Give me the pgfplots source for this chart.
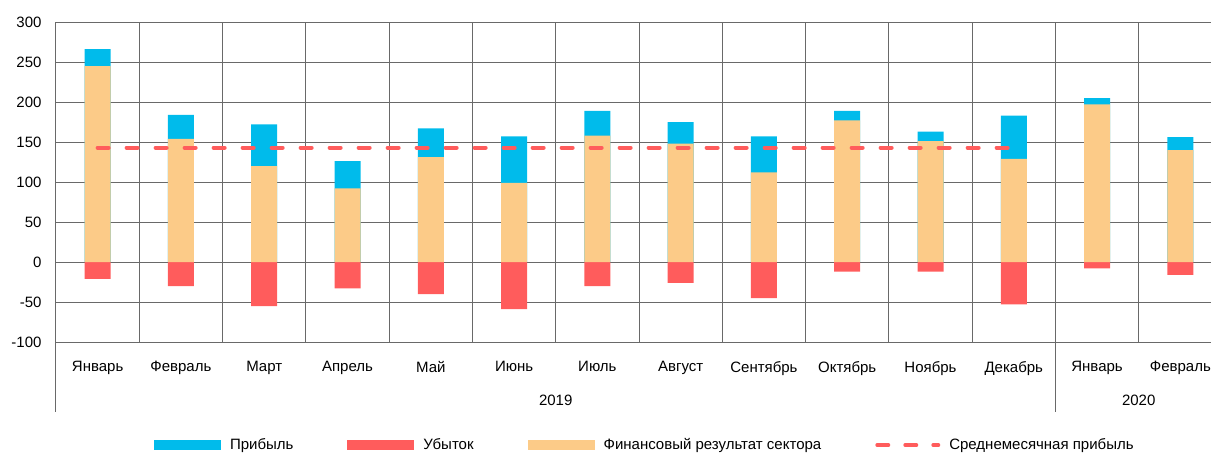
\documentclass[border=0pt]{standalone}
\usepackage{fontspec}
\setmainfont{Liberation Sans}
\usepackage{pgfplots}
\pgfplotsset{compat=1.18}
\definecolor{cblue}{RGB}{0,187,235}
\definecolor{cred}{RGB}{255,92,92}
\definecolor{corange}{RGB}{252,203,136}
\definecolor{cgrid}{RGB}{105,105,105}
\pgfplotstableread{
x profit result loss
0 266 245 -21
1 184 154 -30
2 172 120 -55
3 126 92 -33
4 167 131 -40
5 157 99 -59
6 189 158 -30
7 175 148 -26
8 157 112 -45
9 189 177 -12
10 163 151 -12
11 183 129 -53
12 205 197 -8
13 156 140 -16
}\datatable
\begin{document}
\begin{tikzpicture}[font=\fontsize{15}{18}\selectfont]
\begin{axis}[
 scale only axis, width=1166pt, height=320pt,
 xmin=-0.5, xmax=13.5, ymin=-100, ymax=300,
 ytick={-100,-50,...,300},
 xtick={0,...,13},
 xticklabels={Январь,Февраль,Март,Апрель,Май,Июнь,Июль,Август,Сентябрь,Октябрь,Ноябрь,Декабрь,Январь,Февраль},
 minor xtick={-0.5,0.5,...,13.5},
 xminorgrids=true, ymajorgrids=true, xmajorgrids=false,
 grid style={cgrid, line width=1pt},
 minor grid style={cgrid, line width=1pt},
 axis line style={cgrid, line width=1pt},
 major tick length=0pt, minor tick length=0pt,
 tick style={draw=none},
 /pgf/number format/assume math mode=true,
 yticklabel style={xshift=-11pt},
 xticklabel style={yshift=-16pt},
 clip=false,
 legend columns=4,
 legend style={at={(rel axis cs:0.505,-0.322)}, anchor=center, draw=none, fill=none,
   /tikz/every odd column/.append style={column sep=7pt},
   /tikz/every even column/.append style={column sep=52pt}},
]
\addplot[ybar, bar width=26pt, bar shift=0pt, fill=cblue, draw=none,
  legend image code/.code={\fill[cblue] (0pt,-5pt) rectangle (67pt,5pt);}]
  table[x=x, y=profit] {\datatable};
\addlegendentry{Прибыль}
\addplot[ybar, bar width=26pt, bar shift=0pt, fill=cred, draw=none,
  legend image code/.code={\fill[cred] (0pt,-5pt) rectangle (67pt,5pt);}]
  table[x=x, y=loss] {\datatable};
\addlegendentry{Убыток}
\addplot[ybar, bar width=26pt, bar shift=0pt, fill=corange, draw=none,
  legend image code/.code={\fill[corange] (0pt,-5pt) rectangle (67pt,5pt);}]
  table[x=x, y=result] {\datatable};
\addlegendentry{Финансовый результат сектора}
\addplot[cred, line width=4pt, dash pattern=on 11pt off 18pt, line cap=round,
  legend image code/.code={\draw[cred, line width=4pt, dash pattern=on 11pt off 17pt, line cap=round] (2pt,0pt) -- (63pt,0pt);}]
  coordinates {(0,143) (11,143)};
\addlegendentry{Среднемесячная прибыль}
\coordinate (O) at (axis cs:-0.5,-100);
\draw[cgrid, line width=1pt] (axis cs:-0.5,-100) -- (axis cs:13.5,-100);
\draw[cgrid, line width=1pt] (axis cs:-0.5,-100) -- ++(0pt,-70pt);
\draw[cgrid, line width=1pt] (axis cs:11.5,-100) -- ++(0pt,-70pt);
\node[yshift=-58pt] at (axis cs:5.5,-100) {2019};
\node[yshift=-58pt] at (axis cs:12.5,-100) {2020};
\end{axis}
\pgfresetboundingbox
\path (O) ++(-56pt,-113pt) rectangle ++(1211pt,455pt);
\end{tikzpicture}
\end{document}
